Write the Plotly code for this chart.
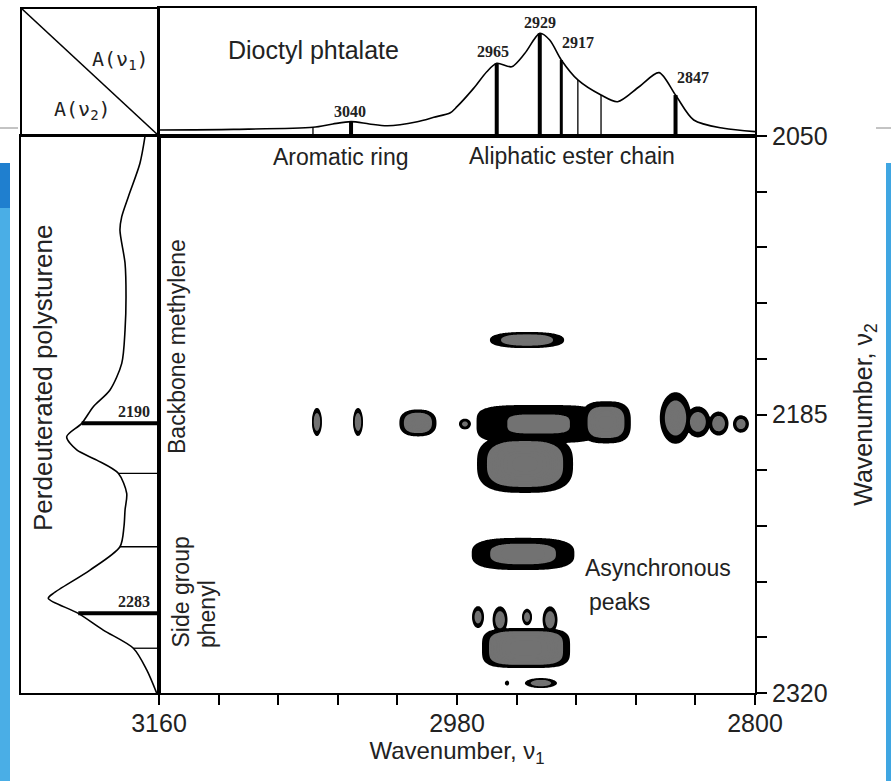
import numpy as np
import plotly.graph_objects as go

W, H = 891, 781

# ---------------- data ----------------
# top spectrum A(nu1): Dioctyl phtalate
top_nu = [3160, 3115, 3067, 3055, 3044, 3033, 3022, 3004, 2994, 2984, 2980, 2970, 2962, 2956,
          2947, 2939, 2930, 2924, 2917, 2907, 2893, 2883, 2870, 2858, 2848, 2837, 2819, 2800]
top_abs = [0.047, 0.052, 0.068, 0.094, 0.112, 0.094, 0.080, 0.112, 0.146, 0.182, 0.229, 0.372, 0.502, 0.568,
           0.541, 0.646, 0.802, 0.750, 0.594, 0.438, 0.320, 0.268, 0.385, 0.495, 0.320, 0.125, 0.060, 0.034]
top_thick_nu = [3044, 2956, 2930, 2848]
top_thick_abs = [0.112, 0.568, 0.802, 0.320]
top_mid_nu = [2917]
top_mid_abs = [0.594]
top_thin_nu = [3067, 2907, 2893]
top_thin_abs = [0.068, 0.438, 0.320]
top_label_text = ["3040", "2965", "2929", "2917", "2847"]
top_label_nu = [3044.6, 2958.3, 2929.9, 2906.9, 2837.5]
top_label_abs = [0.19, 0.66, 0.885, 0.73, 0.455]

# side spectrum A(nu2): Perdeuterated polystyrene
side_nu = [2050, 2063.2, 2079.4, 2089.1, 2095.6, 2111.7, 2127.9, 2144.0, 2160.2, 2173.1, 2181.2, 2189.3,
           2195.8, 2202.2, 2207.1, 2213.5, 2223.2, 2231.3, 2239.4, 2249.1, 2260.4, 2271.7, 2274.1, 2281.4,
           2289.5, 2298.3, 2308.8, 2320]
side_abs = [0.101, 0.138, 0.222, 0.270, 0.283, 0.246, 0.239, 0.246, 0.270, 0.355, 0.476, 0.560,
            0.669, 0.596, 0.451, 0.295, 0.234, 0.246, 0.254, 0.283, 0.500, 0.766, 0.802, 0.585,
            0.404, 0.186, 0.089, 0.017]
side_thick_nu = [2189.3, 2281.4]
side_thick_abs = [0.560, 0.585]
side_thin_nu = [2213.5, 2249.1, 2298.3]
side_thin_abs = [0.295, 0.283, 0.186]
side_label_text = ["2190", "2283"]
side_label_nu = [2183.6, 2275.7]
side_label_abs = [0.181, 0.181]

# asynchronous correlation peaks (centre nu1, centre nu2, half widths, amplitude, shape power)
blob_nu1 = [3064.6, 3039.8, 3003.6, 2975.2, 2930.7, 2890.0, 2938.9, 2937.7, 2848.0, 2834.5,
            2822.0, 2808.5, 2940.1, 2967.3, 2954.0, 2937.7, 2923.8, 2938.3, 2949.8, 2929.3]
blob_nu2 = [2188.6, 2188.6, 2189.1, 2189.6, 2189.6, 2188.8, 2209.0, 2148.9, 2186.7, 2188.6,
            2189.4, 2189.6, 2252.6, 2283.2, 2284.5, 2283.2, 2284.5, 2298.2, 2315.2, 2315.2]
blob_w1 = [3.0, 3.0, 11.2, 3.6, 37.5, 15.0, 29.0, 22.4, 9.5, 7.5,
           6.0, 4.8, 31.0, 3.6, 4.5, 3.0, 4.5, 26.6, 1.3, 9.7]
blob_w2 = [6.8, 6.8, 6.5, 2.6, 9.2, 10.2, 14.0, 3.9, 12.5, 7.5,
           5.8, 4.2, 7.8, 5.3, 6.5, 4.0, 6.5, 9.7, 1.2, 2.4]
blob_amp = [0.8, 0.8, 1.0, 0.6, 0.5, 0.8, 1.0, 0.8, 0.9, 0.8,
            0.8, 0.7, 0.62, 0.7, 0.8, 0.7, 0.8, 1.0, 0.35, 0.8]
blob_pow = [2, 2, 2.5, 2, 4, 3, 3, 2.5, 2, 2,
            2, 2, 3, 2, 2, 2, 2, 4, 2, 2]

x_ticks = [3160, 2980, 2800]
y_ticks = [2050, 2185, 2320]

# ---------------- build correlation map ----------------
L0 = 0.225
grid_nu1 = np.arange(2800, 3080.001, 0.6)
grid_nu2 = np.arange(2130, 2320.001, 0.5)
X, Y = np.meshgrid(grid_nu1, grid_nu2)
Z = np.zeros_like(X)
for c1, c2, w1, w2, a, p in zip(blob_nu1, blob_nu2, blob_w1, blob_w2, blob_amp, blob_pow):
    d = (np.abs(X - c1) / w1) ** p + (np.abs(Y - c2) / w2) ** p
    Z = np.maximum(Z, a * np.exp(-np.log(a / L0) * d))
Z = np.round(np.clip(Z, 0, 1), 3)


def px(x):
    return x / W


def py(y):
    return 1 - y / H


def sticks(pos, val, horizontal=False):
    a, b = [], []
    for p_, v in zip(pos, val):
        a += [p_, p_, None]
        b += [0, v, None]
    return (b, a) if horizontal else (a, b)


fig = go.Figure()

gray = "#727272"
fig.add_trace(go.Contour(
    x=grid_nu1, y=grid_nu2, z=Z, xaxis="x", yaxis="y",
    zmin=0, zmax=1, autocontour=False,
    contours=dict(start=0.025, end=0.975, size=0.05, coloring="fill"),
    colorscale=[[0, "white"], [0.21, "white"], [0.21, "black"], [0.465, "black"],
                [0.465, gray], [1, gray]],
    line=dict(width=0), showscale=False, hoverinfo="skip",
))

# top spectrum
fig.add_trace(go.Scatter(x=top_nu, y=top_abs, xaxis="x2", yaxis="y2", mode="lines",
                         line=dict(color="black", width=1.6, shape="spline", smoothing=0.8),
                         hoverinfo="skip"))
for pos, val, w in [(top_thick_nu, top_thick_abs, 4), (top_mid_nu, top_mid_abs, 3),
                    (top_thin_nu, top_thin_abs, 1.3)]:
    sx, sy = sticks(pos, val)
    fig.add_trace(go.Scatter(x=sx, y=sy, xaxis="x2", yaxis="y2", mode="lines",
                             line=dict(color="black", width=w), hoverinfo="skip"))

# side spectrum
fig.add_trace(go.Scatter(x=side_abs, y=side_nu, xaxis="x3", yaxis="y3", mode="lines",
                         line=dict(color="black", width=1.6, shape="spline", smoothing=0.8),
                         hoverinfo="skip"))
for pos, val, w in [(side_thick_nu, side_thick_abs, 4), (side_thin_nu, side_thin_abs, 1.3)]:
    sx, sy = sticks(pos, val, horizontal=True)
    fig.add_trace(go.Scatter(x=sx, y=sy, xaxis="x3", yaxis="y3", mode="lines",
                             line=dict(color="black", width=w), hoverinfo="skip"))

main_x = [px(159), px(755)]
main_y = [py(693), py(136)]
ax_common = dict(showgrid=False, zeroline=False, showline=True, linecolor="black",
                 linewidth=2, mirror=True, automargin=False)
tickfont = dict(family="Liberation Sans, Arial, sans-serif", size=25, color="#222")

fig.update_layout(
    width=W, height=H, margin=dict(l=0, r=0, t=0, b=0),
    paper_bgcolor="white", plot_bgcolor="rgba(0,0,0,0)", showlegend=False,
    xaxis=dict(**ax_common, domain=main_x, anchor="y", range=[3160, 2800],
               tickvals=x_ticks, ticktext=[str(v) for v in x_ticks], ticks="outside",
               ticklen=10, tickwidth=1.6, tickcolor="black", tickfont=tickfont,
               ticklabelstandoff=-3,
               minor=dict(ticks="outside", ticklen=10, tickwidth=1.6, tickcolor="black",
                          tick0=3160, dtick=36, showgrid=False),
               title=dict(text="Wavenumber, ν<sub>1</sub>", standoff=0,
                          font=dict(family="Liberation Sans, Arial, sans-serif", size=24, color="#222"))),
    yaxis=dict(**ax_common, domain=main_y, anchor="x", side="right", range=[2320, 2050],
               tickvals=y_ticks, ticktext=[str(v) for v in y_ticks], ticks="outside",
               ticklen=10, tickwidth=1.6, tickcolor="black", tickfont=tickfont,
               minor=dict(ticks="outside", ticklen=10, tickwidth=1.6, tickcolor="black",
                          tick0=2050, dtick=27, showgrid=False),
               title=dict(text="Wavenumber, ν<sub>2</sub>", standoff=28,
                          font=dict(family="Liberation Sans, Arial, sans-serif", size=25, color="#222"))),
    xaxis2=dict(**ax_common, domain=main_x, anchor="y2", matches="x", showticklabels=False, ticks=""),
    yaxis2=dict(**ax_common, domain=[py(136), py(8)], anchor="x2", range=[0, 1],
                showticklabels=False, ticks=""),
    xaxis3=dict(**ax_common, domain=[px(21), px(159)], anchor="y3", range=[1, 0],
                showticklabels=False, ticks=""),
    yaxis3=dict(**ax_common, domain=main_y, anchor="x3", matches="y",
                showticklabels=False, ticks=""),
)

shapes = [
    # slide background strips
    dict(type="rect", xref="paper", yref="paper", x0=0, x1=px(10), y0=py(163), y1=py(208),
         fillcolor="#1f7fcf", line=dict(width=0), layer="below"),
    dict(type="rect", xref="paper", yref="paper", x0=0, x1=px(10), y0=py(781), y1=py(208),
         fillcolor="#4aaee6", line=dict(width=0), layer="below"),
    dict(type="rect", xref="paper", yref="paper", x0=px(886), x1=1, y0=py(781), y1=py(163),
         fillcolor="#3fa6e2", line=dict(width=0), layer="below"),
    dict(type="line", xref="paper", yref="paper", x0=0, x1=px(18), y0=py(128), y1=py(128),
         line=dict(color="#888", width=1)),
    dict(type="line", xref="paper", yref="paper", x0=px(876), x1=1, y0=py(128), y1=py(128),
         line=dict(color="#888", width=1)),
    # corner box with diagonal
    dict(type="rect", xref="paper", yref="paper", x0=px(21), x1=px(159), y0=py(136), y1=py(8),
         line=dict(color="black", width=2)),
    dict(type="line", xref="paper", yref="paper", x0=px(21), x1=px(159), y0=py(8), y1=py(136),
         line=dict(color="black", width=1.6)),
]
fig.update_layout(shapes=shapes)

sans = "Liberation Sans, Arial, sans-serif"
ann = []


def note(text, x, y, size, angle=0, xanchor="center", yanchor="middle", family=sans, color="#222"):
    ann.append(dict(text=text, x=px(x), y=py(y), xref="paper", yref="paper", showarrow=False,
                    textangle=angle, xanchor=xanchor, yanchor=yanchor,
                    font=dict(family=family, size=size, color=color)))


note("Dioctyl phtalate", 313, 50, 25)
note("Aromatic ring", 340, 157, 23)
note("Aliphatic ester chain", 572, 156, 23)
note("Perdeuterated polysturene", 43, 378, 26, angle=-90)
note("Backbone methylene", 177, 347, 23, angle=-90)
note("Side group", 180, 650, 23, angle=-90, yanchor="bottom")
note("phenyl", 207, 650, 23, angle=-90, yanchor="bottom")
note("Asynchronous", 583, 568, 23, xanchor="left")
note("peaks", 587, 602, 23, xanchor="left")
note("A(ν<sub>1</sub>)", 120, 60, 20, family="DejaVu Sans Mono, monospace")
note("A(ν<sub>2</sub>)", 82, 110, 20, family="DejaVu Sans Mono, monospace")

for t, n, a in zip(top_label_text, top_label_nu, top_label_abs):
    ann.append(dict(text="<b>" + t + "</b>", x=n, y=a, xref="x2", yref="y2", showarrow=False,
                    font=dict(family="Liberation Serif, serif", size=16, color="#222")))
for t, n, a in zip(side_label_text, side_label_nu, side_label_abs):
    ann.append(dict(text="<b>" + t + "</b>", x=a, y=n, xref="x3", yref="y3", showarrow=False,
                    font=dict(family="Liberation Serif, serif", size=16, color="#222")))

fig.update_layout(annotations=ann)
fig.write_html("out.html", config={"displayModeBar": False},
               post_script="document.body.style.margin='0px';document.body.style.overflow='hidden';")
